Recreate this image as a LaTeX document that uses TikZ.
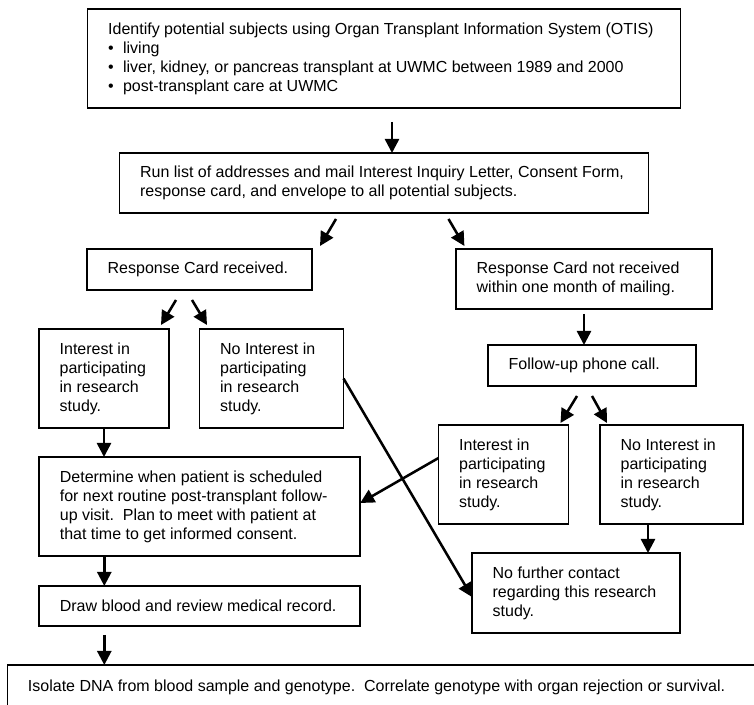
\documentclass[tikz,border=0pt]{standalone}
\usepackage{fontspec}
\setmainfont{Liberation Sans}
\usetikzlibrary{arrows.meta}

\begin{document}
\begin{tikzpicture}[x=0.75pt,y=-0.75pt,
  box/.style={draw, line width=1.2pt, align=left, inner xsep=15.5pt, inner ysep=2pt, outer sep=0pt,
    font=\fontsize{12pt}{14.25pt}\selectfont,
    execute at begin node={\spaceskip=0pt\xspaceskip=0pt}},
  arr/.style={line width=1.9pt, ->, >={Triangle[length=10.5pt,width=10.5pt]}}]
\useasboundingbox (0,0) rectangle (754,705);

\node[box, text width=413.75pt, minimum height=74.25pt] (otis) at (384,58.5)
 {Identify potential subjects using Organ Transplant Information System (OTIS)\\
  \textbullet\hspace{7pt}living\\
  \textbullet\hspace{7pt}liver, kidney, or pancreas transplant at UWMC between 1989 and 2000\\
  \textbullet\hspace{7pt}post-transplant care at UWMC};
\node[box, text width=365.75pt, minimum height=45pt] (mail) at (384,183)
 {Run list of addresses and mail Interest Inquiry Letter, Consent Form,\\
  response card, and envelope to all potential subjects.};
\node[box, text width=137.75pt, minimum height=30.75pt] (recv) at (199.5,269.5) {Response Card received.};
\node[box, text width=161pt, minimum height=45pt] (norecv) at (584,279)
 {Response Card not received\\within one month of mailing.};
\node[box, text width=66.5pt, minimum height=74.25pt] (int1) at (104,378.5)
 {Interest in\\participating\\in research\\study.};
\node[box, text width=77pt, minimum height=74.25pt] (noint1) at (271.5,378.5)
 {No Interest in\\participating\\in research\\study.};
\node[box, text width=125pt, minimum height=30.75pt] (phone) at (592,365.5) {Follow-up phone call.};
\node[box, text width=66.5pt, minimum height=74.25pt] (int2) at (503.5,474.5)
 {Interest in\\participating\\in research\\study.};
\node[box, text width=76.25pt, minimum height=74.25pt] (noint2) at (671.5,474.5)
 {No Interest in\\participating\\in research\\study.};
\node[box, text width=209.75pt, minimum height=74.25pt] (sched) at (199.7,506.5)
 {Determine when patient is scheduled\\
  for next routine post-transplant follow-\\
  up visit.\ \ Plan to meet with patient at\\
  that time to get informed consent.};
\node[box, text width=209.75pt, minimum height=30pt] (blood) at (199.7,606)
 {Draw blood and review medical record.};
\node[box, text width=125pt, minimum height=60pt] (nocontact) at (576,593)
 {No further contact\\regarding this research\\study.};
\node[box, text width=546.5pt, minimum height=33pt] (dna) at (392.3,687)
 {Isolate DNA from blood sample and genotype.\ \ Correlate genotype with organ rejection or survival.};

\draw[arr] ([shift={(8,14)}]otis.south) -- ([shift={(8,0)}]mail.north);
\draw[arr] ([shift={(-48,6)}]mail.south) -- ([shift={(8,-3)}]recv.north east);
\draw[arr] ([shift={(64.5,6)}]mail.south) -- ([shift={(8.4,-3)}]norecv.north west);
\draw[arr] ([shift={(-23.5,10)}]recv.south) -- ([shift={(-8,-4)}]int1.north east);
\draw[arr] ([shift={(-7.5,10)}]recv.south) -- ([shift={(7.5,-4)}]noint1.north west);
\draw[arr] ([shift={(0,5)}]norecv.south) -- (norecv.south |- phone.north);
\draw[arr] ([shift={(-15,10)}]phone.south) -- ([shift={(-8,-2)}]int2.north east);
\draw[arr] ([shift={(0,10)}]phone.south) -- ([shift={(7,-2)}]noint2.north west);
\draw[arr] (int1.south) -- (int1.south |- sched.north);
\draw[arr] (noint1.east) -- ([shift={(0,4)}]nocontact.west);
\draw[arr] ([shift={(0,-16.5)}]int2.west) -- ([shift={(0,-3.5)}]sched.east);
\draw[arr] ([shift={(-23.5,0)}]noint2.south) -- ([shift={(-23.5,0)}]noint2.south |- nocontact.north);
\draw[arr] ([shift={(-95.4,0)}]sched.south) -- ([shift={(-95.4,0)}]blood.north);
\draw[arr] ([shift={(-95.4,9)}]blood.south) -- ([shift={(-95.4,0)}]blood.south |- dna.north);
\end{tikzpicture}
\end{document}
